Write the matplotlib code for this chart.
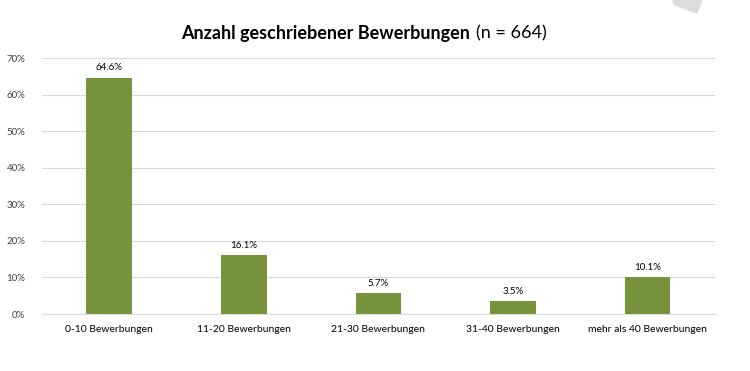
import matplotlib
matplotlib.use("Agg")
import matplotlib.pyplot as plt
from matplotlib.patches import Polygon

categories = ["0-10 Bewerbungen", "11-20 Bewerbungen", "21-30 Bewerbungen",
              "31-40 Bewerbungen", "mehr als 40 Bewerbungen"]
values = [64.6, 16.1, 5.7, 3.5, 10.1]
yticks = [0, 10, 20, 30, 40, 50, 60, 70]

plt.rcParams['font.family'] = ['Lato', 'DejaVu Sans']

fig = plt.figure(figsize=(7.5, 3.71), dpi=100)
ax = fig.add_axes([0.056, 0.1536, 0.897, 0.690])

x = list(range(len(categories)))
ax.bar(x, values, width=0.34, color="#77933C", zorder=3)
for xi, v in zip(x, values):
    ax.annotate(f"{v:.1f}%", (xi, v), xytext=(0, 4), textcoords="offset points",
                ha="center", va="bottom", fontsize=7, color="#000000")

ax.set_xlim(-0.5, len(categories) - 0.5)
ax.set_ylim(0, 70)
ax.set_yticks(yticks)
ax.set_yticklabels([f"{t}%" for t in yticks], fontsize=7, color="#404040")
ax.set_xticks(x)
ax.set_xticklabels(categories, fontsize=7.5, color="#000000")
ax.tick_params(axis="both", length=0)
ax.tick_params(axis="x", pad=8)
ax.tick_params(axis="y", pad=12)
ax.grid(axis="y", color="#D9D9D9", linewidth=0.8, zorder=0)
for s in ["top", "right", "left"]:
    ax.spines[s].set_visible(False)
ax.spines["bottom"].set_color("#D9D9D9")

fig.text(0.627, 0.911, "Anzahl geschriebener Bewerbungen", ha="right", va="center",
         fontsize=13, fontweight="bold", color="#000000")
fig.text(0.634, 0.911, "(n = 664)", ha="left", va="center", fontsize=13, color="#000000")

# light gray corner mark at top right
fig.patches.append(Polygon([[0.897, 1.0], [0.900, 0.9865], [0.929, 0.965], [0.936, 1.0]],
                           closed=True, transform=fig.transFigure, color="#DCDCDC"))

fig.savefig("out.png", dpi=100)
